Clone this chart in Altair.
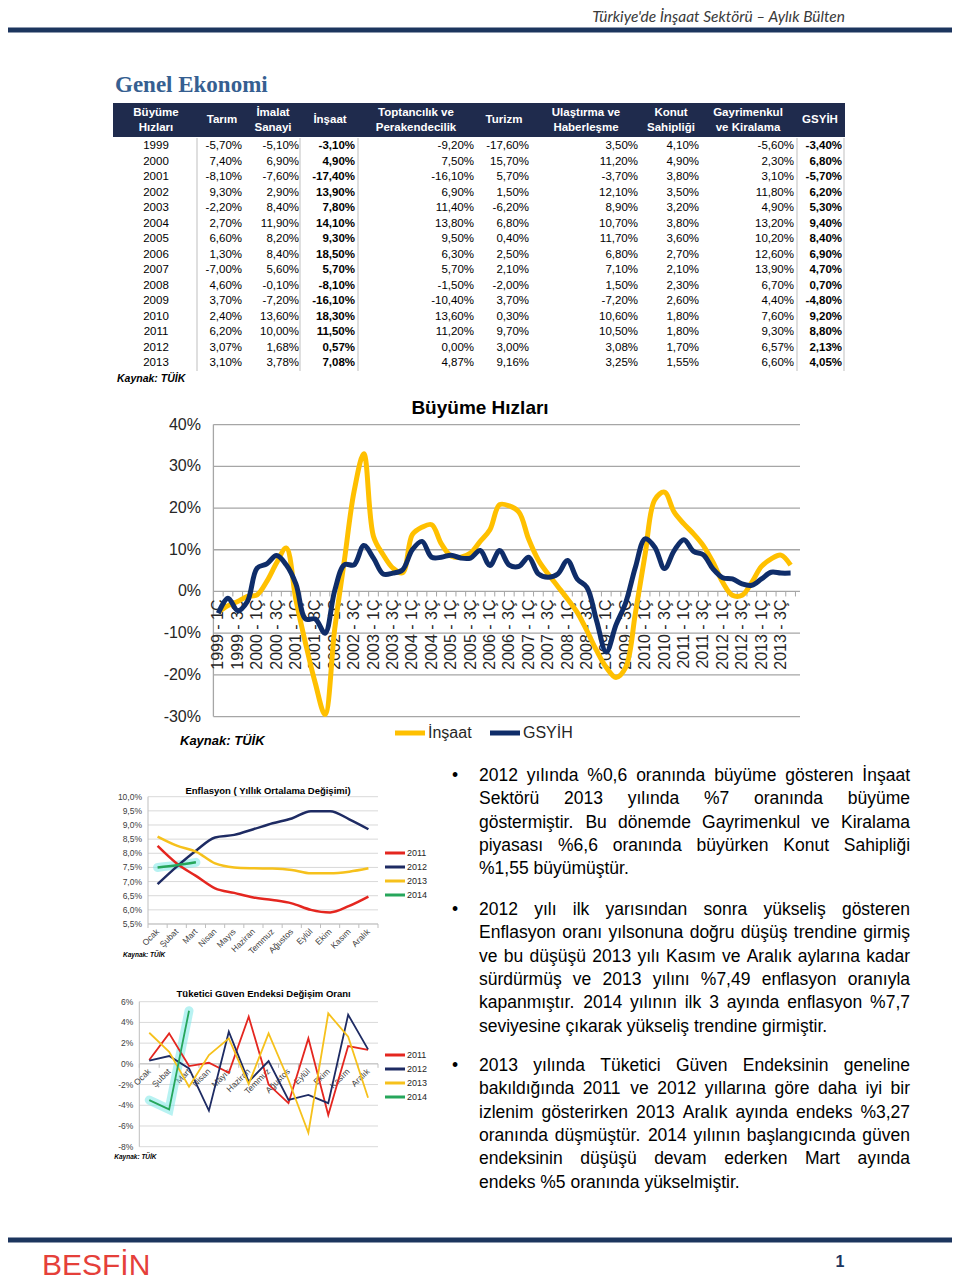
import altair as alt
import pandas as pd

W, H = 944, 1272
FONT = "Liberation Sans"


def cx(x):
    return x - 8


def cy(y):
    return y - 8


# ----------------------------------------------------------------- data
tbl_years = list(range(1999, 2014))
tarim = [-5.70, 7.40, -8.10, 9.30, -2.20, 2.70, 6.60, 1.30, -7.00, 4.60, 3.70, 2.40, 6.20, 3.07, 3.10]
imalat = [-5.10, 6.90, -7.60, 2.90, 8.40, 11.90, 8.20, 8.40, 5.60, -0.10, -7.20, 13.60, 10.00, 1.68, 3.78]
insaat = [-3.10, 4.90, -17.40, 13.90, 7.80, 14.10, 9.30, 18.50, 5.70, -8.10, -16.10, 18.30, 11.50, 0.57, 7.08]
toptan = [-9.20, 7.50, -16.10, 6.90, 11.40, 13.80, 9.50, 6.30, 5.70, -1.50, -10.40, 13.60, 11.20, 0.00, 4.87]
turizm = [-17.60, 15.70, 5.70, 1.50, -6.20, 6.80, 0.40, 2.50, 2.10, -2.00, 3.70, 0.30, 9.70, 3.00, 9.16]
ulastirma = [3.50, 11.20, -3.70, 12.10, 8.90, 10.70, 11.70, 6.80, 7.10, 1.50, -7.20, 10.60, 10.50, 3.08, 3.25]
konut = [4.10, 4.90, 3.80, 3.50, 3.20, 3.80, 3.60, 2.70, 2.10, 2.30, 2.60, 1.80, 1.80, 1.70, 1.55]
gayrimenkul = [-5.60, 2.30, 3.10, 11.80, 4.90, 13.20, 10.20, 12.60, 13.90, 6.70, 4.40, 7.60, 9.30, 6.57, 6.60]
gsyih = [-3.40, 6.80, -5.70, 6.20, 5.30, 9.40, 8.40, 6.90, 4.70, 0.70, -4.80, 9.20, 8.80, 2.13, 4.05]
tbl_headers = [["Büyüme", "Hızları"], ["Tarım"], ["İmalat", "Sanayi"], ["İnşaat"],
               ["Toptancılık ve", "Perakendecilik"], ["Turizm"], ["Ulaştırma ve", "Haberleşme"],
               ["Konut", "Sahipliği"], ["Gayrimenkul", "ve Kiralama"], ["GSYİH"]]

quarters = [f"{y} - {q}Ç" for y in range(1999, 2014) for q in (1, 2, 3, 4)]
insaat_q = [-5.0, -3.4, -2.4, -1.2, -0.8, 2.4, 6.8, 10.4, -2.0, -12.5, -22.0, -29.5,
            -9.0, 7.5, 24.0, 33.0, 13.2, 8.8, 5.6, 4.5, 13.6, 15.4, 16.0, 11.4,
            8.5, 8.2, 9.2, 12.0, 14.8, 20.8, 20.5, 19.0, 12.5, 7.5, 4.2, 1.2,
            -1.8, -5.0, -9.4, -14.2, -18.2, -20.6, -18.2, -5.2, 8.9, 22.0, 23.8, 19.0,
            16.2, 13.8, 11.0, 7.0, 2.2, -0.9, -0.9, 2.2, 6.0, 7.8, 8.7, 6.3]
gsyih_q = [-5.2, -1.6, -4.6, -2.4, 5.6, 6.6, 8.6, 6.4, 1.8, -6.6, -6.6, -10.0,
           0.2, 6.4, 6.4, 11.0, 8.0, 4.2, 4.4, 5.2, 10.0, 12.0, 8.2, 8.2,
           8.7, 8.0, 8.0, 9.8, 6.2, 9.8, 6.3, 6.0, 8.2, 4.2, 3.4, 4.2,
           7.4, 3.0, 1.0, -7.0, -14.5, -8.0, -2.7, 5.8, 12.6, 10.6, 5.5, 9.8,
           12.4, 9.6, 8.8, 5.4, 3.3, 3.0, 1.8, 1.5, 3.0, 4.6, 4.4, 4.4]
series_names = ["İnşaat", "GSYİH"]
big_ticks = [-30, -20, -10, 0, 10, 20, 30, 40]

months = ["Ocak", "Şubat", "Mart", "Nisan", "Mayıs", "Haziran", "Temmuz", "Ağustos",
          "Eylül", "Ekim", "Kasım", "Aralık"]
yrs4 = ["2011", "2012", "2013", "2014"]
enf_2011 = [8.26, 7.64, 7.20, 6.76, 6.60, 6.44, 6.35, 6.23, 6.00, 5.91, 6.14, 6.47]
enf_2012 = [6.91, 7.53, 8.09, 8.56, 8.65, 8.85, 9.06, 9.23, 9.49, 9.49, 9.20, 8.85]
enf_2013 = [8.59, 8.27, 8.06, 7.64, 7.50, 7.47, 7.46, 7.41, 7.29, 7.29, 7.35, 7.47]
enf_2014 = [7.50, 7.58, 7.68]
enf_ticks = [5.5, 6.0, 6.5, 7.0, 7.5, 8.0, 8.5, 9.0, 9.5, 10.0]
tg_2011 = [0.37, 2.94, -0.21, 0.10, -0.86, 4.55, -2.00, -3.80, 2.46, -4.94, 1.72, 1.34]
tg_2012 = [0.30, 0.75, -0.44, -4.52, 3.10, -1.72, 0.27, -3.49, -3.00, -3.80, 4.74, 1.40]
tg_2013 = [3.00, 1.17, -2.20, 0.85, 2.46, -1.95, 2.94, -1.56, -6.65, 4.87, 2.62, -3.27]
tg_2014 = [-3.50, -4.40, 5.13]
tg_ticks = [-8, -6, -4, -2, 0, 2, 4, 6]

para1 = ["2012 yılında %0,6 oranında büyüme gösteren İnşaat",
         "Sektörü 2013 yılında %7 oranında büyüme",
         "göstermiştir. Bu dönemde Gayrimenkul ve Kiralama",
         "piyasası %6,6 oranında büyürken Konut Sahipliği",
         "%1,55 büyümüştür."]
para2 = ["2012 yılı ilk yarısından sonra yükseliş gösteren",
         "Enflasyon oranı yılsonuna doğru düşüş trendine girmiş",
         "ve bu düşüşü 2013 yılı Kasım ve Aralık aylarına kadar",
         "sürdürmüş ve 2013 yılını %7,49 enflasyon oranıyla",
         "kapanmıştır. 2014 yılının ilk 3 ayında enflasyon %7,7",
         "seviyesine çıkarak yükseliş trendine girmiştir."]
para3 = ["2013 yılında Tüketici Güven Endeksinin geneline",
         "bakıldığında 2011 ve 2012 yıllarına göre daha iyi bir",
         "izlenim gösterirken 2013 Aralık ayında endeks %3,27",
         "oranında düşmüştür. 2014 yılının başlangıcında güven",
         "endeksinin düşüşü devam ederken Mart ayında",
         "endeks %5 oranında yükselmiştir."]


# ----------------------------------------------------------------- scale helpers
def sx(field, v_a, p_a, v_b, p_b):
    """linear x scale over the whole canvas, placing v_a at canvas px p_a and v_b at p_b"""
    k = (p_b - p_a) / (v_b - v_a)
    d0 = v_a - p_a / k
    return alt.X(field, scale=alt.Scale(domain=[d0, d0 + W / k], nice=False, zero=False), axis=None)


def sy(field, v_a, p_a, v_b, p_b):
    """linear y scale over the whole canvas (range [H, 0])"""
    k = (p_a - p_b) / (v_b - v_a)
    d0 = v_a - (H - p_a) / k
    return alt.Y(field, scale=alt.Scale(domain=[d0, d0 + H / k], nice=False, zero=False), axis=None)


ONE = pd.DataFrame({"a": [0]})


def txt(s, x, y, size, align="left", weight="normal", style="normal", color="#000000",
        font=FONT, baseline="middle"):
    return alt.Chart(pd.DataFrame({"t": [s]})).mark_text(
        align=align, baseline=baseline, fontSize=size, fontWeight=weight, fontStyle=style,
        color=color, font=font).encode(text="t:N", x=alt.value(cx(x)), y=alt.value(cy(y)))


def hrule(x1, x2, y, color, width):
    return alt.Chart(ONE).mark_rule(color=color, strokeWidth=width).encode(
        x=alt.value(cx(x1)), x2=alt.value(cx(x2)), y=alt.value(cy(y)))


def vrule(x, y1, y2, color, width):
    return alt.Chart(ONE).mark_rule(color=color, strokeWidth=width).encode(
        x=alt.value(cx(x)), y=alt.value(cy(y1)), y2=alt.value(cy(y2)))


def rect(x1, x2, y1, y2, color):
    return alt.Chart(ONE).mark_rect(color=color).encode(
        x=alt.value(cx(x1)), x2=alt.value(cx(x2)), y=alt.value(cy(y1)), y2=alt.value(cy(y2)))


def pct_tr(v, dec=2):
    s = f"{v:.{dec}f}".replace(".", ",")
    return s + "%"


# Arial / Liberation Sans advance widths (1/1000 em) used to justify the paragraphs
AW = {" ": 278, "%": 889, ",": 278, ".": 278, "-": 333, "A": 667, "B": 667, "C": 722, "D": 722,
      "E": 667, "G": 778, "K": 667, "M": 833, "S": 667, "T": 611, "İ": 278, "a": 556, "b": 556,
      "c": 500, "d": 556, "e": 556, "f": 278, "g": 556, "h": 556, "i": 222, "j": 222, "k": 500,
      "l": 222, "m": 833, "n": 556, "o": 556, "p": 556, "r": 333, "s": 500, "t": 278, "u": 556,
      "v": 500, "y": 500, "z": 500, "ı": 278, "ş": 500, "ç": 500, "ğ": 556, "ü": 556, "ö": 556}


def text_w(s, size):
    return sum(AW.get(ch, 556) for ch in s) * size / 1000.0


layers = []

# ----------------------------------------------------------------- page header
NAVY = "#1c355e"
layers.append(txt("Türkiye'de İnşaat Sektörü – Aylık Bülten", 845, 17, 15.5, align="right",
                  style="italic", color="#3a3a3a", font="Lato"))
layers.append(hrule(0, 960, 30, NAVY, 5))
layers.append(txt("Genel Ekonomi", 115, 85, 23, weight="bold", color="#365f91",
                  font="Liberation Serif"))

# ----------------------------------------------------------------- table
layers.append(rect(113, 845, 103, 137, "#1f2b4d"))
hdr_x = [156, 222, 273, 330, 416, 504, 586, 671, 748, 820]
for h, x in zip(tbl_headers, hdr_x):
    if len(h) == 1:
        layers.append(txt(h[0], x, 120, 11.5, align="center", weight="bold", color="#ffffff"))
    else:
        layers.append(txt(h[0], x, 112.5, 11.5, align="center", weight="bold", color="#ffffff"))
        layers.append(txt(h[1], x, 128, 11.5, align="center", weight="bold", color="#ffffff"))

row_y = sy("yil:Q", 1999, cy(146.25), 2013, cy(363.25))
df_years = pd.DataFrame({"yil": tbl_years, "t": [str(y) for y in tbl_years]})
layers.append(alt.Chart(df_years).mark_text(align="center", baseline="middle", fontSize=11.5,
                                            font=FONT, color="#000000").encode(
    x=alt.value(cx(156)), y=row_y, text="t:N"))
tbl_cols = [tarim, imalat, insaat, toptan, turizm, ulastirma, konut, gayrimenkul, gsyih]
col_right = [242, 299, 355, 474, 529, 638, 699, 794, 842]
col_bold = [False, False, True, False, False, False, False, False, True]
for vals, xr, b in zip(tbl_cols, col_right, col_bold):
    d = pd.DataFrame({"yil": tbl_years, "v": [pct_tr(v) for v in vals]})
    layers.append(alt.Chart(d).mark_text(
        align="right", baseline="middle", fontSize=11.5, font=FONT, color="#000000",
        fontWeight="bold" if b else "normal").encode(x=alt.value(cx(xr)), y=row_y, text="v:N"))
for xb in [197, 300, 358, 797, 844]:
    layers.append(vrule(xb, 138, 371, "#bfbfbf", 1))
layers.append(txt("Kaynak: TÜİK", 117, 379, 10.5, weight="bold", style="italic"))

# ----------------------------------------------------------------- big chart
GRID = "#a6a6a6"
xq = sx("i:Q", 0, cx(218.3), 59, cx(218.3 + 59 * 9.7))
yq = sy("v:Q", 40, cy(424.6), -30, cy(716.6))
zero_big = cy(424.6) + 40 * (716.6 - 424.6) / 70.0

df_gl = pd.DataFrame({"v": big_ticks, "t": [f"{t}%" for t in big_ticks]})
layers.append(alt.Chart(df_gl).mark_rule(color=GRID, strokeWidth=1.3).encode(
    y=yq, x=alt.value(cx(213.4)), x2=alt.value(cx(800))))
layers.append(alt.Chart(df_gl).mark_text(align="right", baseline="middle", fontSize=16,
                                         font=FONT, color="#262626").encode(
    y=yq, x=alt.value(cx(201)), text="t:N"))
layers.append(vrule(213.4, 424.6, 716.6, GRID, 1.3))
# category ticks at band edges
df_tk = pd.DataFrame({"i": [k - 0.5 for k in range(61)]})
layers.append(alt.Chart(df_tk).mark_rule(color=GRID, strokeWidth=1).encode(
    x=xq, y=alt.value(zero_big), y2=alt.value(zero_big + 5)))
# category labels (1Ç and 3Ç)
df_ql = pd.DataFrame({"i": list(range(0, 60, 2)), "t": quarters[0::2]})
layers.append(alt.Chart(df_ql).mark_text(align="right", baseline="middle", angle=270,
                                         fontSize=16, font=FONT, color="#262626").encode(
    x=xq, y=alt.value(zero_big + 8), text="t:N"))

rows = []
for s, vals in zip(series_names, [insaat_q, gsyih_q]):
    for i, v in enumerate(vals):
        rows.append({"i": i, "v": v, "seri": s})
df_big = pd.DataFrame(rows)
c_big = alt.Color("seri:N", scale=alt.Scale(domain=series_names, range=["#FFC000", "#0F2D69"]),
                  legend=None)
for s in series_names:
    layers.append(alt.Chart(df_big).transform_filter(alt.datum.seri == s).mark_line(
        strokeWidth=5, interpolate="catmull-rom").encode(x=xq, y=yq, color=c_big))
# legend
for s, x0 in zip(series_names, [395, 490]):
    d = pd.DataFrame({"seri": [s]})
    layers.append(alt.Chart(d).mark_rule(strokeWidth=5).encode(
        x=alt.value(cx(x0)), x2=alt.value(cx(x0 + 30)), y=alt.value(cy(733)), color=c_big))
    layers.append(alt.Chart(d).mark_text(align="left", baseline="middle", fontSize=16, font=FONT,
                                         color="#262626").encode(
        x=alt.value(cx(x0 + 33)), y=alt.value(cy(733)), text="seri:N"))
layers.append(txt("Büyüme Hızları", 480, 408, 19, align="center", weight="bold"))
layers.append(txt("Kaynak: TÜİK", 180, 741, 13, weight="bold", style="italic"))

# ----------------------------------------------------------------- small charts
col4 = ["#e4261f", "#1e2b63", "#f6c11c", "#26a65b"]
c4 = alt.Color("yil:N", scale=alt.Scale(domain=yrs4, range=col4), legend=None)


def small_chart(series_vals, ticks, tick_lbls, x0, x1, ylo_v, ylo_p, yhi_v, yhi_p,
                stroke, interp, title, title_y, leg_y0, kaynak_y):
    out = []
    step = (x1 - x0) / 12.0
    xm = sx("i:Q", 0, cx(x0 + step / 2), 11, cx(x0 + step * 11.5))
    ym = sy("v:Q", ylo_v, cy(ylo_p), yhi_v, cy(yhi_p))
    zero_v = 0 if ylo_v < 0 else ylo_v
    zero_p = cy(ylo_p) + (zero_v - ylo_v) / (yhi_v - ylo_v) * (cy(yhi_p) - cy(ylo_p))
    dg = pd.DataFrame({"v": ticks, "t": tick_lbls})
    out.append(alt.Chart(dg).mark_rule(color="#d9d9d9", strokeWidth=1).encode(
        y=ym, x=alt.value(cx(x0)), x2=alt.value(cx(x1))))
    out.append(alt.Chart(dg).mark_text(align="right", baseline="middle", fontSize=8.5, font=FONT,
                                       color="#404040").encode(
        y=ym, x=alt.value(cx(x0 - 6)), text="t:N"))
    out.append(vrule(x0, yhi_p, ylo_p, "#bfbfbf", 1))
    out.append(alt.Chart(ONE).mark_rule(color="#bfbfbf", strokeWidth=1).encode(
        x=alt.value(cx(x0)), x2=alt.value(cx(x1)), y=alt.value(zero_p)))
    dtk = pd.DataFrame({"i": [k - 0.5 for k in range(13)]})
    out.append(alt.Chart(dtk).mark_rule(color="#bfbfbf", strokeWidth=1).encode(
        x=xm, y=alt.value(zero_p), y2=alt.value(zero_p + 4)))
    dm = pd.DataFrame({"i": list(range(12)), "t": months})
    out.append(alt.Chart(dm).mark_text(align="right", baseline="middle", angle=315, fontSize=8.5,
                                       font=FONT, color="#404040").encode(
        x=xm, y=alt.value(zero_p + 6), text="t:N"))
    rows = []
    for yv, vals in zip(yrs4, series_vals):
        for i, v in enumerate(vals):
            rows.append({"i": i, "yil": yv, "v": v})
    df = pd.DataFrame(rows)
    out.append(alt.Chart(df).transform_filter(alt.datum.yil == "2014").mark_line(
        color="#7ee8e8", strokeWidth=9, opacity=0.55, strokeCap="round",
        interpolate=interp).encode(x=xm, y=ym))
    out.append(alt.Chart(df).mark_line(strokeWidth=stroke, interpolate=interp).encode(
        x=xm, y=ym, color=c4))
    # legend
    dleg = pd.DataFrame({"j": [0, 1, 2, 3], "yil": yrs4})
    yl = sy("j:Q", 0, cy(leg_y0), 3, cy(leg_y0 + 42))
    out.append(alt.Chart(dleg).mark_rule(strokeWidth=3).encode(
        x=alt.value(cx(385)), x2=alt.value(cx(405)), y=yl, color=c4))
    out.append(alt.Chart(dleg).mark_text(align="left", baseline="middle", fontSize=9, font=FONT,
                                         color="#262626").encode(
        x=alt.value(cx(407)), y=yl, text="yil:N"))
    out.append(txt(title, (x0 + x1) / 2 + 5, title_y, 9.5, align="center", weight="bold"))
    out.append(txt("Kaynak: TÜİK", x0 - 25, kaynak_y, 6.5, weight="bold", style="italic"))
    return out


layers += small_chart([enf_2011, enf_2012, enf_2013, enf_2014], enf_ticks,
                      [pct_tr(t, 1) for t in enf_ticks], 148, 378, 5.5, 924, 10.0, 796.7,
                      2.5, "monotone", "Enflasyon ( Yıllık Ortalama Değişimi)", 791, 853, 955)
layers += small_chart([tg_2011, tg_2012, tg_2013, tg_2014], tg_ticks,
                      [f"{t}%" for t in tg_ticks], 139.3, 378, -8, 1146.7, 6, 1001.7,
                      1.8, "linear", "Tüketici Güven Endeksi Değişim Oranı", 994, 1055, 1157)

# ----------------------------------------------------------------- paragraphs (justified)
PSIZE = 17.5
P_LEFT, P_RIGHT = 479, 910
for para, y0 in [(para1, 776), (para2, 910), (para3, 1066)]:
    layers.append(txt("•", 455, y0, PSIZE, align="center"))
    rows = []
    for j, line in enumerate(para):
        words = line.split(" ")
        widths = [text_w(w, PSIZE) for w in words]
        if j < len(para) - 1 and len(words) > 1:
            gap = (P_RIGHT - P_LEFT - sum(widths)) / (len(words) - 1)
        else:
            gap = text_w(" ", PSIZE)
        xpos = cx(P_LEFT)
        for w, wd in zip(words, widths):
            rows.append({"j": j, "w": w, "px": xpos})
            xpos += wd + gap
    dp = pd.DataFrame(rows)
    yp = sy("j:Q", 0, cy(y0), 1, cy(y0 + 23.3))
    layers.append(alt.Chart(dp).mark_text(align="left", baseline="middle", fontSize=PSIZE,
                                          font=FONT, color="#000000").encode(
        x=alt.X("px:Q", scale=None, axis=None), y=yp, text="w:N"))

# ----------------------------------------------------------------- footer
layers.append(hrule(0, 960, 1240, NAVY, 5))
layers.append(txt("BESFİN", 42, 1266, 30, color="#e5403a", font=FONT))
layers.append(txt("1", 840, 1262, 16, align="center", weight="bold", color=NAVY))

chart = (
    alt.layer(*layers)
    .resolve_scale(x="independent", y="independent", color="independent")
    .properties(width=W, height=H, autosize=alt.AutoSizeParams(type="none"), padding=0,
                background="white")
    .configure_view(stroke=None)
)

chart.save("out.html", embed_options={"renderer": "svg", "actions": False})
